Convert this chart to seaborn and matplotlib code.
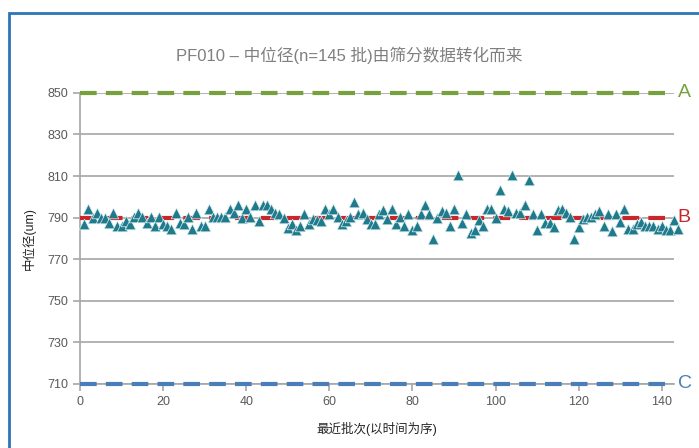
import numpy as np
import pandas as pd
import seaborn as sns
import matplotlib.pyplot as plt
from matplotlib.patches import Rectangle

sns.set_style('white')
plt.rcParams['font.family'] = ['Liberation Sans', 'Noto Sans CJK SC', 'DejaVu Sans']

# 中位径 (um)，按批次顺序
median_um = [
    786.8, 794.3, 789.8, 792.2, 789.8, 789.8, 787.6, 792.4, 785.8, 785.8,
    788.2, 786.8, 790.3, 792.4, 790.3, 787.6, 790.3, 785.8, 790.3, 786.8,
    785.8, 784.6, 792.4, 787.6, 786.8, 790.3, 784.6, 792.4, 785.8, 785.8,
    794.3, 790.3, 790.3, 790.3, 790.3, 794.3, 792.4, 796.3, 789.8, 794.3,
    790.3, 796.3, 788.2, 796.3, 796.3, 794.3, 792.4, 791.9, 789.8, 785.0,
    786.8, 783.9, 785.8, 791.9, 786.8, 789.5, 788.7, 788.2, 794.3, 791.9,
    794.3, 790.3, 786.8, 788.2, 790.3, 797.5, 791.9, 792.4, 789.5, 786.8,
    786.8, 791.9, 793.5, 789.5, 794.3, 786.8, 790.3, 785.8, 791.9, 783.9,
    785.8, 791.9, 796.3, 791.9, 779.9, 789.8, 793.0, 792.4, 785.8, 794.3,
    810.4, 787.6, 791.9, 782.6, 783.9, 788.7, 785.8, 794.3, 794.3, 789.8,
    803.1, 794.3, 793.0, 810.4, 792.4, 792.4, 796.3, 808.3, 791.9, 784.2,
    791.9, 787.6, 787.6, 785.5, 793.5, 794.3, 792.4, 790.3, 779.9, 785.5,
    789.5, 790.3, 790.3, 791.9, 793.0, 785.8, 791.9, 783.6, 791.9, 787.9,
    794.3, 784.6, 784.6, 786.8, 787.9, 785.8, 785.8, 785.8, 784.6, 785.8,
    783.9, 783.9, 788.7, 784.6,
]
batch = list(range(1, len(median_um) + 1))

limit_names = ['A', 'B', 'C']
limit_values = [850, 790, 710]
limit_colors = ['#77a13d', '#c8262b', '#4a7ebb']

df = pd.DataFrame({'batch': batch, 'median': median_um})

fig = plt.figure(figsize=(6.99, 4.48), dpi=100)
ax = fig.add_axes([0.1145, 0.143, 0.85, 0.6496])

# 外框
fig.patches.append(Rectangle((9 / 699, -0.05), 1.0, 1 - 13 / 448 + 0.05,
                             transform=fig.transFigure, fill=False,
                             edgecolor='#2e75b6', linewidth=2))

ax.set_xlim(0, 143)
ax.set_ylim(710, 850)
ax.set_yticks(range(710, 851, 20))
ax.set_xticks(range(0, 141, 20))
ax.grid(axis='y', color='#a6a6a6', linewidth=1.2)
ax.grid(axis='x', visible=False)
for s in ['top', 'right']:
    ax.spines[s].set_visible(False)
for s in ['left', 'bottom']:
    ax.spines[s].set_color('#a6a6a6')
    ax.spines[s].set_linewidth(1.2)
ax.tick_params(axis='both', colors='#a6a6a6', length=5, width=1.2,
               labelcolor='#595959', labelsize=9, direction='out',
               left=True, bottom=True)

for name, val, col in zip(limit_names, limit_values, limit_colors):
    ax.axhline(val, color=col, linewidth=3, linestyle=(0, (4, 2.2)),
               clip_on=False, zorder=3)
    ax.text(1.006, val, name, transform=ax.get_yaxis_transform(),
            color=col, fontsize=14, va='center', ha='left')

sns.scatterplot(data=df, x='batch', y='median', marker='^', s=58,
                color='#1f7a8c', edgecolor='#d9ecef', linewidth=0.5,
                ax=ax, zorder=4, clip_on=False)

ax.set_xlabel('最近批次(以时间为序)', fontsize=9, color='#262626', labelpad=10)
ax.set_ylabel('中位径(um)', fontsize=9, color='#262626', labelpad=8)
fig.text(0.5, 1 - 55 / 448, 'PF010 – 中位径(n=145 批)由筛分数据转化而来',
         ha='center', va='center', fontsize=12, color='#7f7f7f')

fig.savefig('out.png', dpi=100)
